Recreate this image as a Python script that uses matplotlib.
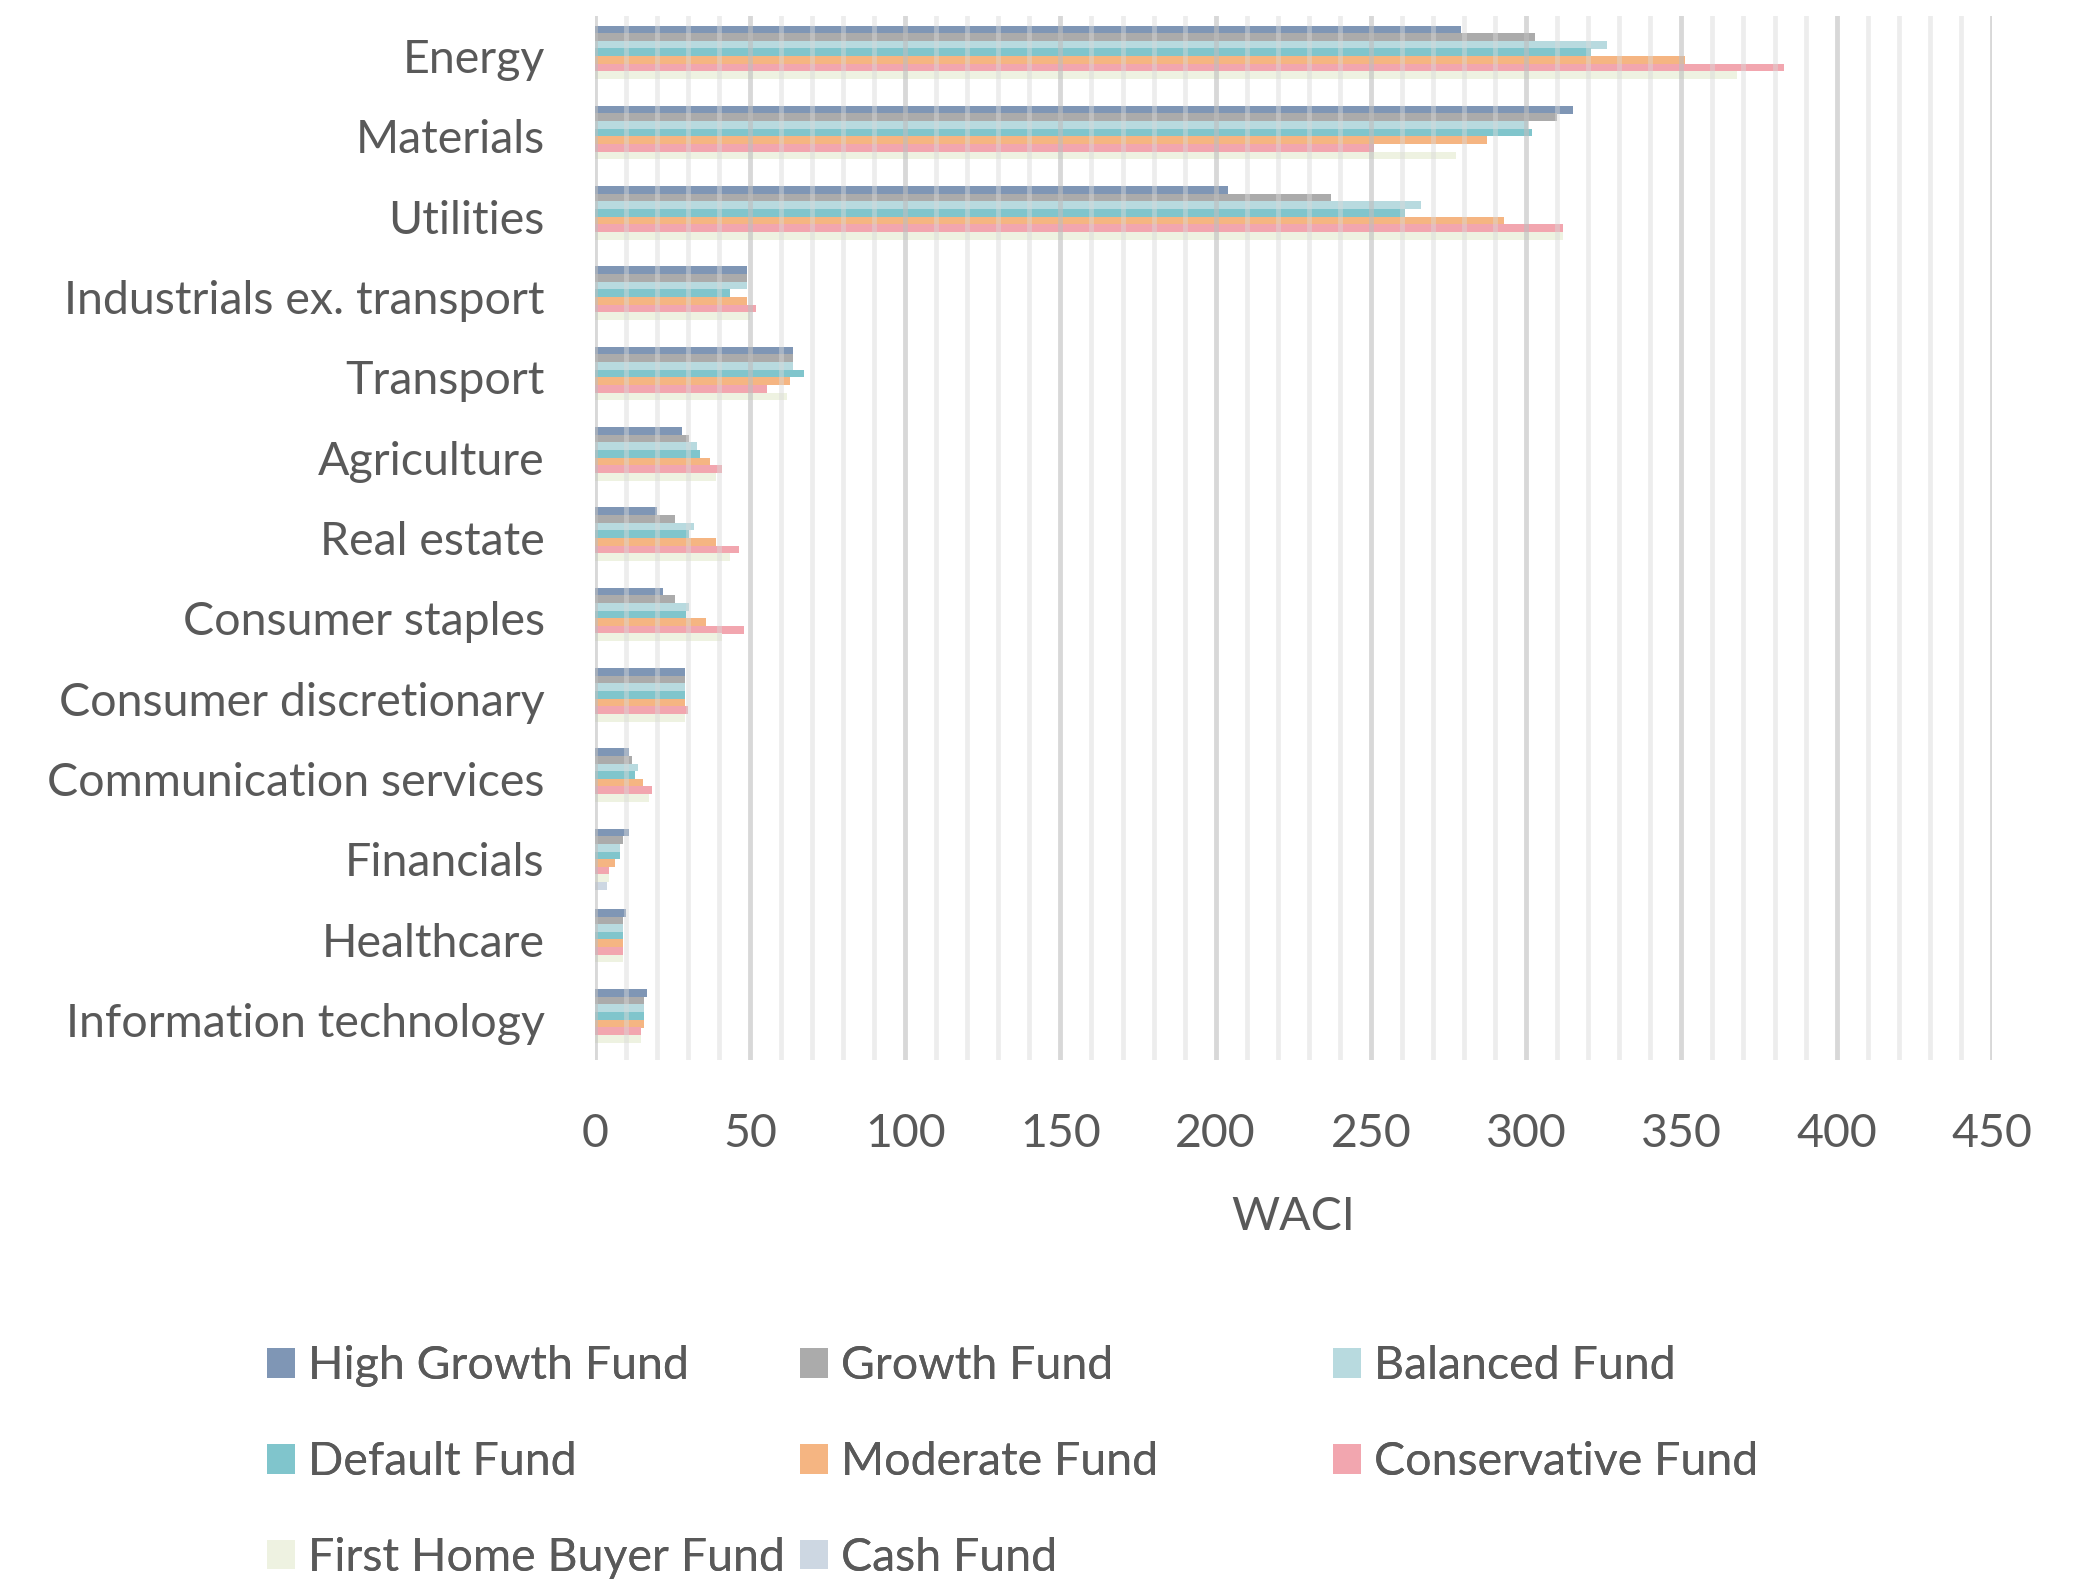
import matplotlib
matplotlib.use("Agg")
import matplotlib.pyplot as plt
import numpy as np
from matplotlib.ticker import MultipleLocator

categories = ["Energy", "Materials", "Utilities", "Industrials ex. transport", "Transport",
              "Agriculture", "Real estate", "Consumer staples", "Consumer discretionary",
              "Communication services", "Financials", "Healthcare", "Information technology"]

high_growth = [279, 315, 204, 49, 64, 28, 20, 22, 29, 11, 11, 10, 17]
growth = [303, 310, 237, 49, 64, 30.5, 26, 26, 29, 12, 9, 9, 16]
balanced = [326, 300.5, 266, 49, 64, 33, 32, 30.5, 29, 14, 8.3, 9, 16]
default = [321, 302, 261, 43.5, 67.5, 34, 30.5, 29.5, 29, 13, 8.3, 9, 16]
moderate = [351, 287.5, 293, 49, 63, 37, 39, 36, 29, 15.5, 6.4, 9, 16]
conservative = [383, 251, 312, 52, 55.5, 41, 46.5, 48, 30, 18.5, 4.6, 9, 15]
first_home = [368, 277.5, 312, 50, 62, 39, 43.5, 41, 29, 17.5, 4.6, 9, 15]
cash = [0, 0, 0, 0, 0, 0, 0, 0, 0, 0, 4, 0, 0]

series_names = ["High Growth Fund", "Growth Fund", "Balanced Fund", "Default Fund",
                "Moderate Fund", "Conservative Fund", "First Home Buyer Fund", "Cash Fund"]
series = [high_growth, growth, balanced, default, moderate, conservative, first_home, cash]
colors = ["#7F96B5", "#ABABAB", "#B8DADF", "#80C5CC", "#F5B582", "#F2A6AF", "#EEF2E1", "#CDD7E2"]

plt.rcParams['font.family'] = ['Lato', 'DejaVu Sans']
text_color = "#595959"
FS = 33.5

fig = plt.figure(figsize=(20.91, 15.79), dpi=100)
ax = fig.add_axes([0.2844, 0.3287, 0.6682, 0.6612])

n = len(categories)
y = np.arange(n)
bh = 0.095
handles = []
for i, (vals, name, c) in enumerate(zip(series, series_names, colors)):
    offs = (i - 3.5) * bh
    h = ax.barh(y + offs, vals, height=bh * 1.02, color=c, label=name, zorder=2, linewidth=0)
    handles.append(h)

ax.set_ylim(n - 0.5, -0.5)
ax.set_xlim(0, 450)
ax.xaxis.set_major_locator(MultipleLocator(50))
ax.xaxis.set_minor_locator(MultipleLocator(10))
ax.grid(which='minor', axis='x', color='#d9d9d9', alpha=0.45, linewidth=3.5, zorder=3)
ax.grid(which='major', axis='x', color='#bfbfbf', alpha=0.6, linewidth=3.5, zorder=3)
ax.set_axisbelow(False)
for s in ax.spines.values():
    s.set_visible(False)
ax.set_yticks(y)
ax.set_yticklabels(categories)
ax.tick_params(axis='both', which='both', length=0, colors=text_color, labelsize=FS)
ax.tick_params(axis='y', pad=36)
ax.tick_params(axis='x', pad=38)
ax.set_xlabel("WACI", fontsize=FS, color=text_color, labelpad=30)

# legend: three columns, each a separate legend so column x positions are fixed
col_groups = [[0, 3, 6], [1, 4, 7], [2, 5]]
col_x = [267 / 2091, 800 / 2091, 1333 / 2091]
top_y = 1 - 1345 / 1579
for grp, cx in zip(col_groups, col_x):
    lg = fig.legend([handles[i] for i in grp], [series_names[i] for i in grp],
                    loc='upper left', bbox_to_anchor=(cx, top_y), ncol=1,
                    frameon=False, fontsize=FS, handlelength=0.61, handleheight=0.61,
                    handletextpad=0.28, labelspacing=1.16,
                    labelcolor=text_color, borderaxespad=0, borderpad=0)
    fig.add_artist(lg)

fig.savefig("out.png", dpi=100)
